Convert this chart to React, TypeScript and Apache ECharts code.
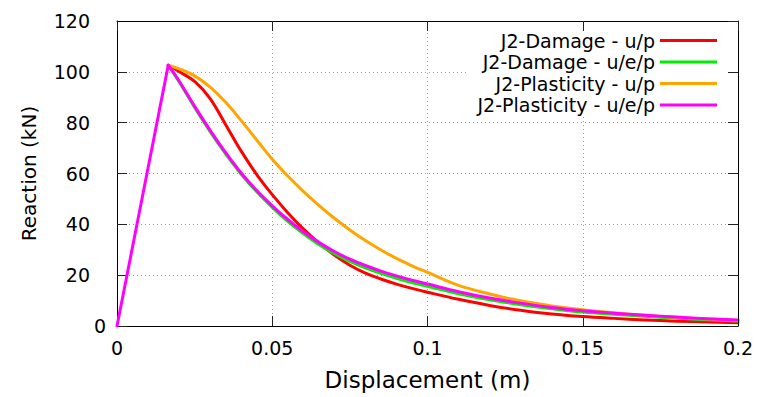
import React, { useEffect, useRef } from 'react';
import * as echarts from 'echarts';

const seriesNames = ['J2-Damage - u/p', 'J2-Damage - u/e/p', 'J2-Plasticity - u/p', 'J2-Plasticity - u/e/p'];
const seriesColors = ['#ff0000', '#00ee00', '#ffa500', '#ff00ff'];

// elastic branch (shared by all four runs)
const riseX = [0, 0.0165];
const riseY = [0, 102.6];

// softening branch, displacement (m)
const xs = [0.0165, 0.02, 0.025, 0.03, 0.035, 0.04, 0.045, 0.05, 0.055, 0.06, 0.065, 0.07, 0.075, 0.08, 0.085, 0.09, 0.095, 0.1, 0.11, 0.12, 0.13, 0.14, 0.15, 0.16, 0.17, 0.18, 0.19, 0.2];
const damageUP = [102.6, 100.1, 96.2, 89.5, 79.2, 68.8, 59.6, 51.7, 44.6, 38.2, 32.7, 27.9, 23.9, 20.8, 18.5, 16.5, 14.8, 13.3, 10.5, 8.1, 6.2, 4.7, 3.7, 3.0, 2.4, 1.9, 1.6, 1.3];
const damageUEP = [102.6, 96.1, 86.0, 76.5, 67.7, 59.7, 52.8, 46.7, 41.2, 36.4, 32.1, 28.5, 25.4, 22.9, 20.7, 18.8, 17.1, 15.6, 12.7, 10.3, 8.4, 6.8, 5.5, 4.6, 3.8, 3.1, 2.5, 2.0];
const plastUP = [102.6, 101.2, 98.4, 94.0, 88.0, 80.8, 73.2, 65.6, 59.0, 53.0, 47.5, 42.4, 37.8, 33.6, 29.9, 26.6, 23.7, 21.1, 16.0, 12.6, 9.9, 7.9, 6.4, 5.2, 4.2, 3.4, 2.8, 2.2];
const plastUEP = [102.6, 96.4, 86.4, 77.0, 68.2, 60.2, 53.3, 47.3, 41.9, 37.1, 32.9, 29.3, 26.3, 23.8, 21.6, 19.7, 18.0, 16.5, 13.5, 11.0, 9.0, 7.3, 6.0, 5.0, 4.2, 3.5, 2.9, 2.4];
const seriesValues = [damageUP, damageUEP, plastUP, plastUEP];

const xTickLabels = ['0', '0.05', '0.1', '0.15', '0.2'];
const yTickLabels = ['0', '20', '40', '60', '80', '100', '120'];

const FONT = '"DejaVu Sans", Verdana, sans-serif';

export default function App() {
  const ref = useRef<HTMLDivElement>(null);
  useEffect(() => {
    if (!ref.current) return;
    const chart = echarts.init(ref.current, null, { renderer: 'svg' });
    const axisLineStyle = { color: '#000', width: 1 };
    const tickStyle = { color: '#222', width: 1 };
    const series: any[] = seriesValues.map((vals, k) => ({
      name: seriesNames[k],
      type: 'line',
      data: xs.map((x, i) => [x, vals[i]]),
      smooth: 0.35,
      symbol: 'none',
      showSymbol: false,
      color: seriesColors[k],
      lineStyle: { width: 3, color: seriesColors[k], cap: 'round', join: 'round' },
      z: 2 + k,
    }));
    series.push({
      name: 'elastic',
      type: 'line',
      data: riseX.map((x, i) => [x, riseY[i]]),
      symbol: 'none',
      showSymbol: false,
      color: seriesColors[3],
      lineStyle: { width: 3, color: seriesColors[3], cap: 'round' },
      z: 7,
    });
    chart.setOption({
      animation: false,
      grid: { left: 117, right: 22, top: 21, bottom: 71, containLabel: false },
      legend: {
        data: seriesNames,
        orient: 'vertical',
        align: 'right',
        right: 31,
        top: 31,
        padding: [0, 12, 0, 11],
        itemWidth: 57,
        itemHeight: 3,
        itemGap: 2.5,
        icon: 'rect',
        backgroundColor: '#fff',
        selectedMode: false,
        textStyle: { fontFamily: FONT, fontSize: 19, color: '#000' },
        z: 4,
      },
      xAxis: [
        {
          type: 'value', min: 0, max: 0.2, interval: 0.05,
          axisLine: { show: true, onZero: false, lineStyle: axisLineStyle },
          axisTick: { show: true, inside: true, length: 10, lineStyle: tickStyle },
          axisLabel: {
            margin: 12, fontFamily: FONT, fontSize: 19, color: '#000',
            formatter: (_v: number, i: number) => xTickLabels[i],
          },
          splitLine: { show: true, lineStyle: { type: [1, 3], color: '#999', width: 1 } },
          name: 'Displacement (m)', nameLocation: 'middle', nameGap: 42,
          nameTextStyle: { fontFamily: FONT, fontSize: 23, color: '#000' },
        },
        {
          type: 'value', position: 'top', min: 0, max: 0.2, interval: 0.05,
          axisLine: { show: true, onZero: false, lineStyle: axisLineStyle },
          axisTick: { show: true, inside: true, length: 10, lineStyle: tickStyle },
          axisLabel: { show: false },
          splitLine: { show: false },
          z: 10,
        },
      ],
      yAxis: [
        {
          type: 'value', min: 0, max: 120, interval: 20,
          axisLine: { show: true, onZero: false, lineStyle: axisLineStyle },
          axisTick: { show: true, inside: true, length: 10, lineStyle: tickStyle },
          axisLabel: {
            margin: 11, fontFamily: FONT, fontSize: 19, color: '#000',
            formatter: (_v: number, i: number) => (i === 0 ? `{z|${yTickLabels[i]}}` : `{n|${yTickLabels[i]}}`),
            rich: {
              z: { fontFamily: FONT, fontSize: 19, color: '#000' },
              n: { fontFamily: FONT, fontSize: 19, color: '#000', padding: [0, 16, 0, 0] },
            },
          },
          splitLine: { show: true, lineStyle: { type: [1, 3], color: '#999', width: 1 } },
          name: 'Reaction (kN)', nameLocation: 'middle', nameGap: 78, nameRotate: 90,
          nameTextStyle: { fontFamily: FONT, fontSize: 20, color: '#000' },
        },
        {
          type: 'value', position: 'right', min: 0, max: 120, interval: 20,
          axisLine: { show: true, onZero: false, lineStyle: axisLineStyle },
          axisTick: { show: true, inside: true, length: 10, lineStyle: tickStyle },
          axisLabel: { show: false },
          splitLine: { show: false },
          z: 10,
        },
      ],
      series,
    });
    return () => chart.dispose();
  }, []);
  return (
    <div
      ref={ref}
      style={{ position: 'fixed', left: 0, top: 0, width: 760, height: 397, background: '#fff' }}
    />
  );
}
